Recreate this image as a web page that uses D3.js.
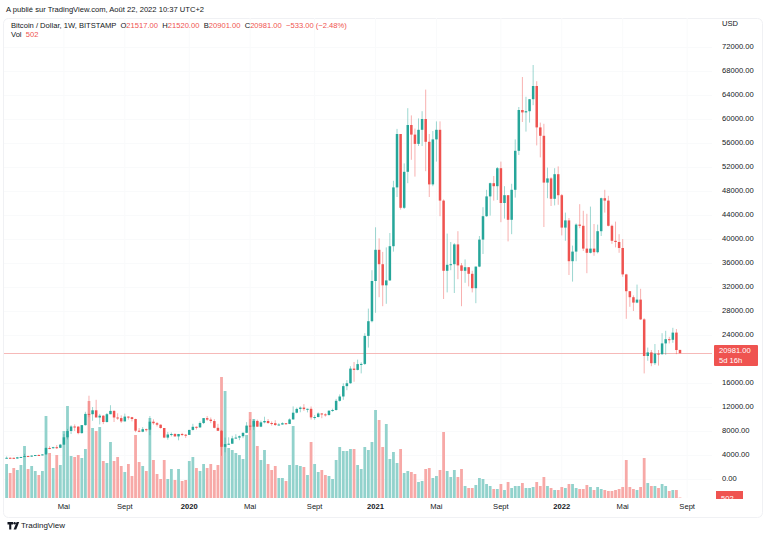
<!DOCTYPE html>
<html><head><meta charset="utf-8">
<script src="https://cdn.jsdelivr.net/npm/d3@7"></script>
<style>
body{margin:0;background:#fff}
svg{display:block}
text{font-family:"Liberation Sans",Arial,sans-serif}
</style>
</head><body>
<svg id="c" width="768" height="536"></svg>
<script>
// ---- DATA (weekly BTC/USD Bitstamp) ----
const firstWeek = "2019-01-14";
const opens = [3520,3535,3530,3410,3620,3670,3830,3820,3900,4000,3990,4100,5170,5150,5300,5200,5730,6950,8000,8750,8730,7650,8980,10850,10800,11450,10250,10550,9500,10800,11350,10250,10150,9600,10400,10300,10000,8050,7880,8300,8220,9550,9300,9050,8500,6900,7420,7500,7100,7500,7380,
7350,8180,8700,8600,9330,10150,9900,9660,8530,8040,5360,5820,5880,6770,6900,7130,7700,8900,8720,9680,8720,9440,9670,9330,9300,9000,9080,9300,9180,9930,11050,11680,11900,11650,11700,10270,10330,10920,10770,10670,11380,11500,13030,13750,15480,15960,18400,18180,19150,19180,23850,26300,
33000,38200,35800,32280,33100,38800,48600,57500,45200,51200,59000,57400,55850,58200,60000,56200,49100,56600,58200,46400,34700,35700,35800,39100,35600,34700,35300,34200,31800,35400,39900,43800,47100,49300,48800,51800,46000,47300,43200,48200,54700,61500,61100,61300,63300,65500,58600,57200,49400,50100,46700,50800,
47300,41900,43100,36300,37900,42400,42200,38400,37700,38400,37800,41300,46800,46400,42200,39700,39500,38500,34100,31300,30300,29400,29900,26600,20500,21100,19300,20900,20800,22600,23300,23200,24400,21517];
const highs = [3750,3600,3560,3680,3700,4200,3900,3950,4000,4100,4120,5300,5470,5370,5650,5850,7500,8350,8950,9100,8800,9000,11200,13880,12000,13200,10850,10650,11000,12300,11450,10950,10600,10900,10450,10350,10050,8500,8650,8400,10500,9950,9500,9100,8500,7850,7750,7650,7520,7700,7500,
8200,9200,8750,9600,10150,10500,10250,9980,9190,8180,6900,6950,7200,7460,7250,7730,9480,10000,9950,9900,9740,10380,10000,9600,9800,9300,9450,9330,10100,12100,11900,12100,12480,11730,12090,10650,11100,10990,10950,11450,11720,13350,14100,15950,16480,18800,19500,19900,19450,24300,28400,34800,
41950,40100,37850,38600,41000,49700,58350,57500,52600,61800,60600,58400,60100,61300,64900,57500,58000,59600,59600,46600,40900,39500,39300,41300,36000,36600,35300,34700,35400,40500,45300,48200,49400,50500,52000,52900,48800,47300,49200,56600,62000,67000,63700,63300,69000,66300,59400,59200,51900,50300,51800,52100,
47500,44400,43500,38900,42600,45800,44700,44200,45400,42500,42400,46900,48200,47200,42400,42900,40800,40000,34200,31300,30600,32400,31700,26800,21900,21500,22500,21500,24300,24700,23700,25200,25000,21520];
const lows = [3500,3470,3370,3380,3560,3650,3700,3680,3820,3900,3930,4100,4950,5050,5000,5150,5700,6600,7500,8000,7450,7550,8900,10300,9700,11100,9100,9150,9400,10800,9500,9850,9350,9600,9900,9600,7800,7800,7800,7900,7300,9050,8750,8400,6800,6550,7100,7050,6450,7150,6850,
7350,8080,8250,8550,9150,9700,9300,8450,8000,3850,4450,5680,5860,6770,6470,6800,7650,8150,8200,8700,8640,9280,9200,8900,8850,8950,9050,9030,9150,9900,10950,11120,11350,11100,9900,9880,10280,10130,10400,10550,11200,11400,12900,13200,14800,15880,16200,18100,17600,19000,21900,26100,
27700,30300,28800,29200,33000,37900,47000,44900,45000,49300,53200,50400,55500,55500,51300,47000,48800,52900,43800,30000,31100,34800,31000,33300,28800,32700,32100,31100,29300,35300,37500,43700,43900,46400,46500,42800,43400,39600,40800,46900,54000,59500,57900,59400,62300,55600,53600,42000,46800,45500,45600,45700,
40600,39700,34000,32900,36300,41800,38000,34300,37600,37200,37600,40500,44400,42100,39200,38600,37700,33700,26700,28700,28000,29300,26500,17600,19700,18800,19000,18900,20700,20700,22600,22700,20800,20901];
const closes = [3535,3530,3410,3620,3670,3830,3820,3900,4000,3990,4100,5170,5150,5300,5200,5730,6950,8000,8750,8730,7650,8980,10850,10800,11450,10250,10550,9500,10800,11350,10250,10150,9600,10400,10300,10000,8050,7880,8300,8220,9550,9300,9050,8500,6900,7420,7500,7100,7500,7380,7350,
8180,8700,8600,9330,10150,9900,9660,8530,8040,5360,5820,5880,6770,6900,7130,7700,8900,8720,9680,8720,9440,9670,9330,9300,9000,9080,9300,9180,9930,11050,11680,11900,11650,11700,10270,10330,10920,10770,10670,11380,11500,13030,13750,15480,15960,18400,18180,19150,19180,23850,26300,33000,
38200,35800,32280,33100,38800,48600,57500,45200,51200,59000,57400,55850,58200,60000,56200,49100,56600,58200,46400,34700,35700,35800,39100,35600,34700,35300,34200,31800,35400,39900,43800,47100,49300,48800,51800,46000,47300,43200,48200,54700,61500,61100,61300,63300,65500,58600,57200,49400,50100,46700,50800,47300,
41900,43100,36300,37900,42400,42200,38400,37700,38400,37800,41300,46800,46400,42200,39700,39500,38500,34100,31300,30300,29400,29900,26600,20500,21100,19300,20900,20800,22600,23300,23200,24400,21500,20981];
const volumes = [34000,25000,30000,28000,33000,52000,29000,32000,27000,23000,27000,82000,45000,30000,43000,33000,67000,92000,42000,41000,43000,40000,49000,97000,70000,67000,71000,37000,35000,56000,37000,41000,32000,26000,34000,22000,63000,36000,32000,27000,80000,38000,24000,19000,38000,19000,29000,18000,29000,17000,18000,
37000,41000,30000,27000,34000,30000,34000,28000,33000,121000,107000,50000,48000,45000,43000,39000,63000,86000,79000,52000,38000,48000,34000,28000,32000,20000,20000,17000,33000,72000,33000,32000,31000,23000,56000,34000,26000,28000,23000,22000,19000,38000,51000,47000,47000,49000,49000,33000,29000,51000,48000,56000,
88000,78000,51000,74000,39000,46000,35000,49000,25000,27000,26000,24000,16000,17000,29000,30000,20000,22000,28000,66000,27000,21000,28000,21000,29000,12000,10000,10000,13000,20000,19000,14000,12000,9000,9000,14000,8000,16000,10000,12000,12000,15000,10000,10000,11000,16000,12000,21000,12000,10000,8000,8000,
11000,10000,14000,14000,10000,9000,9000,13000,11000,8000,11000,9000,8000,7000,7000,8000,9000,11000,38000,11000,9000,8000,11000,40000,15000,12000,12000,10000,14000,12000,7000,8000,8000,502];
const priceTicks = [0,4000,8000,12000,16000,24000,28000,32000,36000,40000,44000,48000,52000,56000,60000,64000,68000,72000];
const timeTickDates = ["2019-05-06","2019-09-02","2020-01-06","2020-05-04","2020-09-07","2021-01-04","2021-05-03","2021-09-06","2022-01-03","2022-05-02","2022-09-05"];
const timeTickLabels = ["Mai","Sept","2020","Mai","Sept","2021","Mai","Sept","2022","Mai","Sept"];
const lastPrice = 20981.00;
const lastVolume = 502;
const legendValues = {O:"21517.00",H:"21520.00",B:"20901.00",C:"20981.00",chg:"\u2212533.00 (\u22122.48%)"};

// ---- CHART ----
const svg = d3.select("#c");
const W = 768, H = 536;
const plot = {l:4, r:712, t:18, b:498};
const UP = "#26a69a", DN = "#ef5350";
const UPV = "#92d2cc", DNV = "#f7a9a7";

const parse = d3.utcParse("%Y-%m-%d");
const start = parse(firstWeek);
const dates = closes.map((_, i) => d3.utcDay.offset(start, 7 * i));
const data = dates.map((d, i) => ({d, o:opens[i], h:highs[i], l:lows[i], c:closes[i], v:volumes[i]}));

const x = d3.scaleUtc().domain([dates[0], dates[dates.length - 1]]).range([6.6, 680]);
const y = d3.scaleLinear().domain([0, 72000]).range([479, 47]);
const yv = d3.scaleLinear().domain([0, 121000]).range([plot.b, plot.b - 121]);

svg.append("rect").attr("width", W).attr("height", H).attr("fill", "#fff");

// container border
svg.append("rect").attr("x", 3.5).attr("y", 18.5).attr("width", 759).attr("height", 499)
  .attr("rx", 5).attr("fill", "none").attr("stroke", "#f0f1f4");

svg.append("defs").append("clipPath").attr("id", "pc").append("rect")
  .attr("x", plot.l).attr("y", plot.t).attr("width", plot.r - plot.l).attr("height", plot.b - plot.t);

const g = svg.append("g").attr("clip-path", "url(#pc)");

// grid (very faint)
const tdates = timeTickDates.map(parse);
g.selectAll("line.vg").data(tdates).join("line")
  .attr("x1", d => x(d)).attr("x2", d => x(d)).attr("y1", plot.t).attr("y2", plot.b)
  .attr("stroke", "#f9fafb").attr("stroke-width", 1);
g.selectAll("line.hg").data(priceTicks).join("line")
  .attr("x1", plot.l).attr("x2", plot.r).attr("y1", d => Math.round(y(d)) + 0.5).attr("y2", d => Math.round(y(d)) + 0.5)
  .attr("stroke", "#f9fafb").attr("stroke-width", 1);

// volume
const bw = 2.8;
g.selectAll("rect.vol").data(data).join("rect")
  .attr("x", d => x(d.d) - bw / 2).attr("width", bw)
  .attr("y", d => yv(d.v)).attr("height", d => plot.b - yv(d.v))
  .attr("fill", d => d.c >= d.o ? UPV : DNV);

// last price line
g.append("line").attr("x1", plot.l).attr("x2", plot.r)
  .attr("y1", Math.round(y(lastPrice)) + 0.5).attr("y2", Math.round(y(lastPrice)) + 0.5)
  .attr("stroke", "#f6b9b8").attr("stroke-width", 1);

// candles
const cw = 2.5;
const cg = g.selectAll("g.candle").data(data).join("g");
cg.append("line")
  .attr("x1", d => x(d.d)).attr("x2", d => x(d.d))
  .attr("y1", d => y(d.h)).attr("y2", d => y(d.l))
  .attr("stroke", d => d.c >= d.o ? UP : DN).attr("stroke-width", 0.9).attr("stroke-opacity", 0.5);
cg.append("rect")
  .attr("x", d => x(d.d) - cw / 2).attr("width", cw)
  .attr("y", d => y(Math.max(d.o, d.c)))
  .attr("height", d => Math.max(1, Math.abs(y(d.o) - y(d.c))))
  .attr("fill", d => d.c >= d.o ? UP : DN);

// price axis labels
const fs = 7.6;
svg.append("text").attr("x", 722).attr("y", 24).attr("dominant-baseline", "middle")
  .attr("font-size", fs).attr("fill", "#131722").text("USD");
svg.selectAll("text.pt").data(priceTicks).join("text")
  .attr("x", 722).attr("y", d => y(d)).attr("dominant-baseline", "middle")
  .attr("font-size", fs).attr("fill", "#131722").text(d => d3.format(".2f")(d));

// last price label
const ly = y(lastPrice);
svg.append("rect").attr("x", 714).attr("y", ly - 8).attr("width", 44).attr("height", 21)
  .attr("rx", 1).attr("fill", DN);
svg.append("text").attr("x", 719).attr("y", ly - 2).attr("dominant-baseline", "middle")
  .attr("font-size", fs).attr("fill", "#fff").text(d3.format(".2f")(lastPrice));
svg.append("text").attr("x", 719).attr("y", ly + 7.5).attr("dominant-baseline", "middle")
  .attr("font-size", fs).attr("fill", "#fff").text("5d 16h");

// last volume label (clipped)
svg.append("defs").append("clipPath").attr("id", "vc").append("rect")
  .attr("x", 700).attr("y", 480).attr("width", 68).attr("height", 19);
const vl = svg.append("g").attr("clip-path", "url(#vc)");
vl.append("rect").attr("x", 716).attr("y", 491).attr("width", 27).attr("height", 14).attr("fill", DN);
vl.append("text").attr("x", 721).attr("y", 499).attr("dominant-baseline", "middle")
  .attr("font-size", fs).attr("fill", "#fff").text(lastVolume);

// time axis labels
svg.selectAll("text.tt").data(tdates).join("text")
  .attr("x", d => x(d)).attr("y", 507).attr("text-anchor", "middle").attr("dominant-baseline", "middle")
  .attr("font-size", fs).attr("fill", "#131722")
  .attr("font-weight", (d, i) => /^\d{4}$/.test(timeTickLabels[i]) ? "bold" : "normal")
  .text((d, i) => timeTickLabels[i]);

// header
svg.append("text").attr("x", 6).attr("y", 10).attr("dominant-baseline", "middle")
  .attr("font-size", fs).attr("fill", "#131722")
  .text("A publié sur TradingView.com, Août 22, 2022 10:37 UTC+2");

// legend
const lg = svg.append("text").attr("x", 11).attr("y", 25.5).attr("dominant-baseline", "middle")
  .attr("font-size", fs).attr("fill", "#131722").attr("xml:space", "preserve");
lg.append("tspan").text("Bitcoin / Dollar, 1W, BITSTAMP  ");
["O","H","B","C"].forEach(k => {
  lg.append("tspan").attr("fill", "#131722").text(k);
  lg.append("tspan").attr("fill", DN).text(legendValues[k] + "  ");
});
lg.append("tspan").attr("fill", DN).text(legendValues.chg);

const vg = svg.append("text").attr("x", 11).attr("y", 35).attr("dominant-baseline", "middle")
  .attr("font-size", fs).attr("fill", "#131722").attr("xml:space", "preserve");
vg.append("tspan").text("Vol  ");
vg.append("tspan").attr("fill", DN).text(lastVolume);

// TradingView logo
const logo = svg.append("g").attr("fill", "#131722");
logo.append("path").attr("d", "M7.5,522 h5.5 v2.4 h-1.7 v5 h-2.1 v-5 h-1.7 z");
logo.append("circle").attr("cx", 14.6).attr("cy", 523.2).attr("r", 1.2);
logo.append("path").attr("d", "M16.6,522 h2.6 l-3,7.4 h-2.6 z");
svg.append("text").attr("x", 21).attr("y", 526).attr("dominant-baseline", "middle")
  .attr("font-size", 8).attr("fill", "#131722").text("TradingView");
</script>
</body></html>
